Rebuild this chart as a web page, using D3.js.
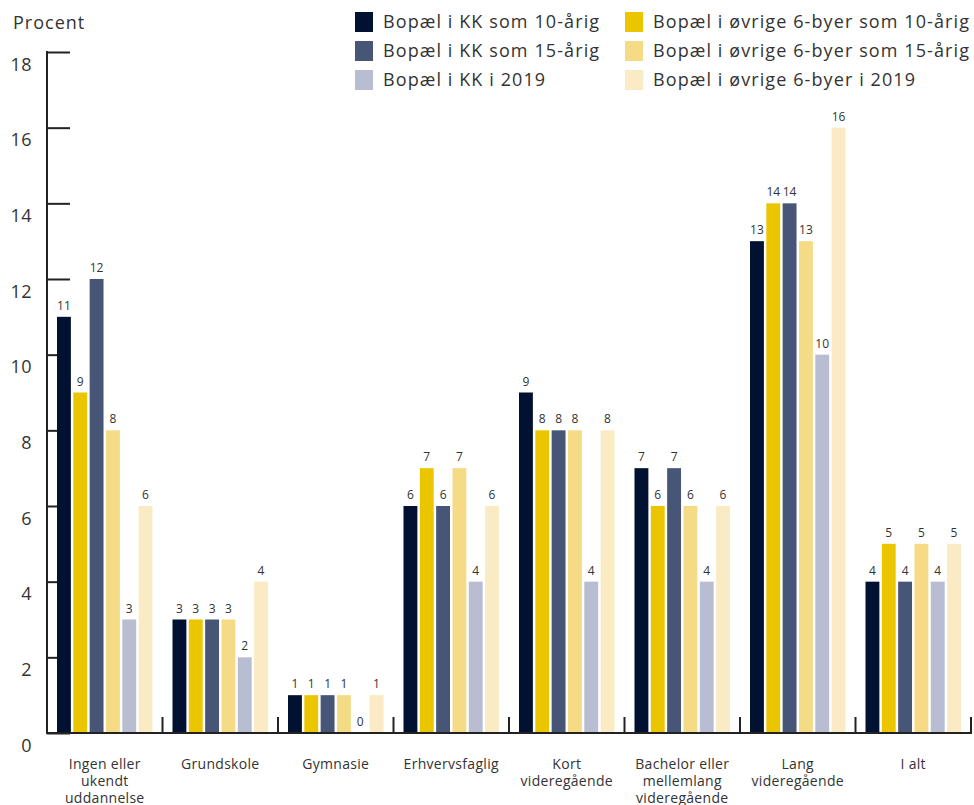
<!DOCTYPE html>
<html>
<head>
<meta charset="utf-8">
<script src="https://cdn.jsdelivr.net/npm/d3@7"></script>
<style>
  html, body { margin: 0; padding: 0; background: #fff; }
  svg text { font-family: "Open Sans", sans-serif; fill: #333; }
</style>
</head>
<body>
<svg id="chart" width="974" height="805"></svg>
<script>
const categories = [
  ["Ingen eller", "ukendt", "uddannelse"],
  ["Grundskole"],
  ["Gymnasie"],
  ["Erhvervsfaglig"],
  ["Kort", "videregående"],
  ["Bachelor eller", "mellemlang", "videregående"],
  ["Lang", "videregående"],
  ["I alt"]
];
const seriesNames = [
  "Bopæl i KK som 10-årig",
  "Bopæl i øvrige 6-byer som 10-årig",
  "Bopæl i KK som 15-årig",
  "Bopæl i øvrige 6-byer som 15-årig",
  "Bopæl i KK i 2019",
  "Bopæl i øvrige 6-byer i 2019"
];
const kk10    = [11, 3, 1, 6, 9, 7, 13, 4];
const byer10  = [ 9, 3, 1, 7, 8, 6, 14, 5];
const kk15    = [12, 3, 1, 6, 8, 7, 14, 4];
const byer15  = [ 8, 3, 1, 7, 8, 6, 13, 5];
const kk2019  = [ 3, 2, 0, 4, 4, 4, 10, 4];
const byer2019= [ 6, 4, 1, 6, 8, 6, 16, 5];
const seriesValues = [kk10, byer10, kk15, byer15, kk2019, byer2019];
const colors = ["#011131", "#EBC500", "#475577", "#F5DB85", "#B8BDD1", "#FAEBC4"];
const yTicks = [0, 2, 4, 6, 8, 10, 12, 14, 16, 18];
const yLabel = "Procent";
// legend order: column 1 = KK, column 2 = øvrige 6-byer
const legendOrder = [0, 2, 4, 1, 3, 5];

const svg = d3.select("#chart");
const mLeft = 47, mRight = 971, mTop = 52, mBottom = 733;
const catKeys = categories.map(c => c.join(" "));

const x0 = d3.scaleBand().domain(catKeys).range([mLeft, mRight]).padding(0);
const x1 = d3.scaleBand().domain(d3.range(seriesNames.length))
  .range([10, x0.bandwidth() - 10]).paddingInner(0.15).paddingOuter(0);
const y = d3.scaleLinear().domain([0, 18]).range([mBottom, mTop]);

// y axis
const yAxis = svg.append("g").attr("transform", `translate(${mLeft},0)`)
  .call(d3.axisLeft(y).tickValues(yTicks).tickSize(-23).tickSizeOuter(0).tickPadding(15));
yAxis.select(".domain").remove();
yAxis.selectAll(".tick line").attr("stroke", "#222").attr("stroke-width", 2);
yAxis.selectAll(".tick text").attr("dy", "1.0em").attr("font-size", 18)
  .style("font-family", "'Open Sans', sans-serif").style("fill", "#333").style("letter-spacing", "0.5px");
svg.append("line").attr("x1", mLeft).attr("x2", mLeft).attr("y1", mTop - 1).attr("y2", mBottom + 1)
  .attr("stroke", "#222").attr("stroke-width", 2);

// y label
svg.append("text").attr("x", 13).attr("y", 29).attr("font-size", 18)
  .style("letter-spacing", "1px").text(yLabel);

// bars
const groups = svg.append("g").selectAll("g").data(catKeys).join("g")
  .attr("transform", d => `translate(${x0(d)},0)`);
groups.selectAll("rect").data((d, i) => seriesValues.map((s, j) => ({ j, v: s[i] })))
  .join("rect")
  .attr("x", d => x1(d.j)).attr("width", x1.bandwidth())
  .attr("y", d => y(d.v)).attr("height", d => y(0) - y(d.v))
  .attr("fill", d => colors[d.j]);
groups.selectAll("text.val").data((d, i) => seriesValues.map((s, j) => ({ j, v: s[i] })))
  .join("text").attr("class", "val")
  .attr("x", d => x1(d.j) + x1.bandwidth() / 2)
  .attr("y", d => y(d.v) - 7)
  .attr("text-anchor", "middle").attr("font-size", 12)
  .text(d => d.v);

// x axis line
svg.append("line").attr("x1", mLeft).attr("x2", mRight + 1).attr("y1", mBottom).attr("y2", mBottom)
  .attr("stroke", "#222").attr("stroke-width", 2);
svg.append("g").selectAll("line").data(catKeys).join("line")
  .attr("x1", d => x0(d) + x0.bandwidth()).attr("x2", d => x0(d) + x0.bandwidth())
  .attr("y1", mBottom).attr("y2", mBottom - 16)
  .attr("stroke", "#222").attr("stroke-width", 2);

// x labels
const xl = svg.append("g").selectAll("text").data(categories).join("text")
  .attr("x", (d, i) => x0(catKeys[i]) + x0.bandwidth() / 2)
  .attr("y", 769).attr("text-anchor", "middle").attr("font-size", 14)
  .style("letter-spacing", "0.3px");
xl.selectAll("tspan").data(d => d).join("tspan")
  .attr("x", function() { return this.parentNode.getAttribute("x"); })
  .attr("dy", (d, i) => i === 0 ? 0 : 17)
  .text(d => d);

// legend
const leg = svg.append("g").selectAll("g").data(legendOrder).join("g")
  .attr("transform", (d, i) => `translate(${i < 3 ? 355 : 625},${12 + (i % 3) * 29})`);
leg.append("rect").attr("width", 18).attr("height", 20).attr("fill", d => colors[d]);
leg.append("text").attr("x", 28).attr("y", 16).attr("font-size", 18)
  .style("letter-spacing", "1.1px").text(d => seriesNames[d]);
</script>
</body>
</html>
